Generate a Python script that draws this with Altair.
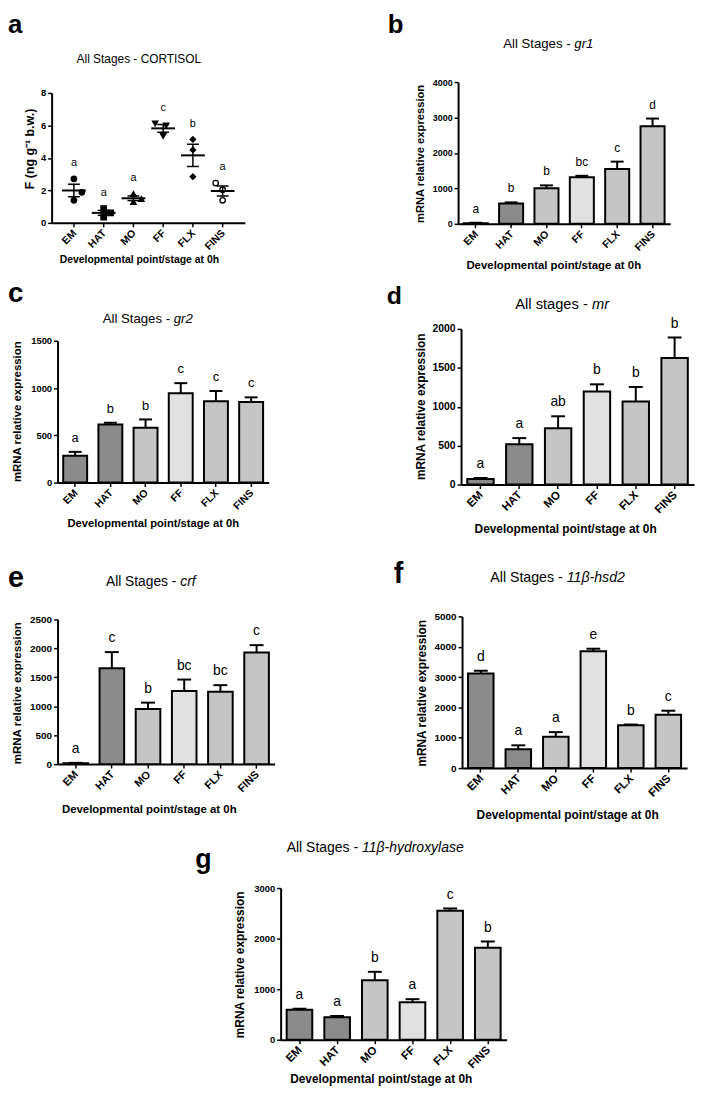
import altair as alt
import numpy as np
import pandas as pd

FONT = "Liberation Sans"
STAGES = ["EM", "HAT", "MO", "FF", "FLX", "FINS"]
X_TITLE = "Developmental point/stage at 0h"
Y_TITLE = "mRNA relative expression"

# ---- data ----
# a: cortisol, individual replicates (ng g-1 b.w.)
CORT_EM = [2.71, 1.88, 1.39]
CORT_HAT = [0.88, 0.61, 0.35]
CORT_MO = [1.78, 1.47, 1.29]
CORT_FF = [6.12, 5.99, 5.35]
CORT_FLX = [5.14, 4.49, 2.84]
CORT_FINS = [2.45, 2.04, 1.39]
CORT_LETTERS = ["a", "a", "a", "c", "b", "a"]

GR1_MEAN = [20, 575, 1005, 1315, 1550, 2755]
GR1_SEM = [8, 30, 80, 40, 205, 215]
GR1_LETTERS = ["a", "b", "b", "bc", "c", "d"]

GR2_MEAN = [283, 615, 580, 944, 860, 853]
GR2_SEM = [42, 18, 88, 108, 109, 49]
GR2_LETTERS = ["a", "b", "b", "c", "c", "c"]

MR_MEAN = [72, 517, 725, 1195, 1068, 1627]
MR_SEM = [13, 80, 152, 93, 186, 263]
MR_LETTERS = ["a", "a", "ab", "b", "b", "b"]

CRF_MEAN = [17, 1655, 953, 1261, 1250, 1929]
CRF_SEM = [5, 280, 109, 200, 114, 126]
CRF_LETTERS = ["a", "c", "b", "bc", "bc", "c"]

HSD2_MEAN = [3120, 620, 1033, 3848, 1413, 1761]
HSD2_SEM = [87, 130, 152, 87, 22, 130]
HSD2_LETTERS = ["d", "a", "a", "e", "b", "c"]

HYD_MEAN = [593, 443, 1174, 743, 2550, 1820]
HYD_SEM = [20, 27, 169, 59, 46, 123]
HYD_LETTERS = ["a", "a", "b", "a", "c", "b"]

# ---- styles ----
FILLS = ["#8b8b8b", "#8b8b8b", "#c5c5c5", "#e1e1e1", "#c5c5c5", "#c5c5c5"]
SHAPES = ["circle", "square", "triangle-up", "triangle-down", "diamond", "circle"]
OPEN_STAGE = "FINS"
JITTER = [[0, 8, 0], [0, 7, 0], [0, 8, 0], [-8, 3, 0], [0, 0, 0], [-7, 0, 0]]

REG_EM = {"All Stages - ": 5.391, "All stages - ": 5.224}
ITAL_EM = {"gr1": 1.445, "gr2": 1.445, "mr": 1.166, "crf": 1.111,
           "11β-hsd2": 4.189, "11β-hydroxylase": 7.356}

# page-coordinate layout: plot=(left, top, width, height), cell=(x1, y1, x2, y2)
P = {
    "a": dict(plot=(52, 89, 195, 131), cell=(8, 8, 356, 272), letter=(8, 29, 26),
              title=(140, 55, 12), ytitle=(30, 145, 12.5), xtitle=(140, 257, 10.5), tick=9.5, xtick=10.5, sig=11),
    "b": dict(plot=(462, 78, 214, 143), cell=(356, 8, 702, 272), letter=(391, 29, 26),
              title=(553, 40, 13.3), ytitle=(424, 150, 11.3), xtitle=(558, 263, 11.5), tick=9, xtick=10.5,
              sig=12, cap=13),
    "c": dict(plot=(58, 339, 213, 143), cell=(8, 272, 356, 545), letter=(8, 300, 28),
              title=(149, 317, 13.3), ytitle=(18, 410, 11.5), xtitle=(154, 523, 11.3), tick=9.5, xtick=10.5,
              sig=13, cap=13),
    "d": dict(plot=(465, 327, 235, 157), cell=(356, 272, 702, 545), letter=(390, 302, 25),
              title=(567, 303, 14.8), ytitle=(424, 405, 12), xtitle=(570, 528, 12), tick=10.5, xtick=11.5,
              sig=14, cap=14),
    "e": dict(plot=(58, 620, 219, 146), cell=(8, 545, 356, 830), letter=(8, 587, 29),
              title=(152, 582, 13.9), ytitle=(18, 694, 11.6), xtitle=(150, 812, 11.5), tick=10, xtick=11,
              sig=14, cap=14),
    "f": dict(plot=(466, 617, 227, 153), cell=(356, 545, 702, 830), letter=(397, 583, 29),
              title=(563, 578, 14.3), ytitle=(425, 694, 12), xtitle=(572, 817, 12), tick=10, xtick=11.5,
              sig=14, cap=14),
    "g": dict(plot=(283, 891, 228, 153), cell=(8, 830, 702, 1089), letter=(197, 871, 27),
              title=(379, 851, 14.1), ytitle=(242, 968, 12), xtitle=(384, 1083, 12), tick=9.5, xtick=11.5,
              sig=14, cap=14),
}


def geom(key):
    g = P[key]
    px, py, W, H = g["plot"]
    cx1, cy1, cx2, cy2 = g["cell"]
    return g, px, py, W, H, cx1, cy1, cx2, cy2


def text_at(x, y, s, size, weight="normal", style="normal", align="left", baseline="alphabetic"):
    return alt.Chart(alt.Data(values=[{"t": s}])).mark_text(
        font=FONT, fontSize=size, fontWeight=weight, fontStyle=style,
        align=align, baseline=baseline, color="black"
    ).encode(x=alt.value(x), y=alt.value(y), text="t:N")


def decorations(key, letter, reg, ital, xs):
    g, px, py, W, H, cx1, cy1, cx2, cy2 = geom(key)
    layers = [
        alt.Chart(alt.Data(values=[{}])).mark_rule(opacity=0).encode(
            x=alt.value(0), x2=alt.value(cx2 - cx1), y=alt.value(0), y2=alt.value(cy2 - cy1))
    ]
    # rotated category labels, placed through the x scale
    layers.append(
        alt.Chart(pd.DataFrame({"stage": STAGES})).mark_text(
            font=FONT, fontSize=g["xtick"], fontWeight="bold", color="black",
            angle=315, align="right", baseline="middle", xOffset=1
        ).encode(x=xs, y=alt.value(py - cy1 + H + 9), text="stage:N")
    )
    lx, ly, ls = g["letter"]
    layers.append(text_at(lx - cx1, ly - cy1, letter, ls, weight="bold"))
    tx, ty, ts = g["title"]
    if ital:
        wr = REG_EM[reg] * ts
        wi = ITAL_EM[ital] * ts
        left = tx - (wr + wi) / 2
        layers.append(text_at(left - cx1, ty - cy1, reg, ts, baseline="middle"))
        layers.append(text_at(left + wr - cx1, ty - cy1, ital, ts, style="italic", baseline="middle"))
    else:
        layers.append(text_at(tx - cx1, ty - cy1, reg, ts, align="center", baseline="middle"))
    return layers


def x_axis(key):
    g, px, py, W, H, cx1, cy1, cx2, cy2 = geom(key)
    xt, yt, st = g["xtitle"]
    return alt.Axis(
        title=X_TITLE, offset=-(cy2 - (py + H)), labels=False,
        titleFont=FONT, titleFontSize=st, titleFontWeight="bold", titleColor="black",
        titleX=xt - cx1, titleY=yt - (py + H), titleAlign="center", titleBaseline="middle", titleAngle=0,
        tickColor="black", tickWidth=1.5, tickSize=4, domainColor="black", domainWidth=2, grid=False,
    )


def y_axis(key, title, values):
    g, px, py, W, H, cx1, cy1, cx2, cy2 = geom(key)
    xt, yt, st = g["ytitle"]
    return alt.Axis(
        title=title, values=values, format="d", offset=-(px - cx1),
        titleFont=FONT, titleFontSize=st, titleFontWeight="bold", titleColor="black",
        titleX=xt - px, titleY=yt - cy1, titleAngle=270, titleAlign="center", titleBaseline="middle",
        labelFont=FONT, labelFontSize=g["tick"], labelFontWeight="bold", labelColor="black",
        labelPadding=2, labelOverlap=False, labelFlush=False,
        tickColor="black", tickWidth=1.5, tickSize=4, domainColor="black", domainWidth=2, grid=False,
    )


def x_enc(key, point=False):
    g, px, py, W, H, cx1, cy1, cx2, cy2 = geom(key)
    rng = [px - cx1, px - cx1 + W]
    if point:
        sc = alt.Scale(domain=STAGES, padding=0.5, range=rng)
    else:
        sc = alt.Scale(domain=STAGES, paddingInner=0.32, paddingOuter=0.16, range=rng)
    return alt.X("stage:N", sort=STAGES, scale=sc, axis=x_axis(key))


def y_enc(key, field, title, ymax, values):
    g, px, py, W, H, cx1, cy1, cx2, cy2 = geom(key)
    sc = alt.Scale(domain=[0, ymax], nice=False, zero=True, range=[py - cy1 + H, py - cy1])
    return alt.Y(field, scale=sc, axis=y_axis(key, title, values))


def bar_panel(key, letter, reg, ital, means, sems, letters, ymax, step):
    g, px, py, W, H, cx1, cy1, cx2, cy2 = geom(key)
    df = pd.DataFrame({"stage": STAGES, "mean": means, "sem": sems, "letter": letters})
    df["top"] = df["mean"] + df["sem"]
    ticks = list(range(0, ymax + 1, step))
    base = alt.Chart(df)
    xs = x_enc(key)
    ym = y_enc(key, "mean:Q", Y_TITLE, ymax, ticks)
    yt = y_enc(key, "top:Q", Y_TITLE, ymax, ticks)
    bars = base.mark_bar(stroke="black", strokeWidth=2).encode(
        x=xs, y=ym,
        fill=alt.Fill("stage:N", scale=alt.Scale(domain=STAGES, range=FILLS), legend=None),
    )
    err = base.mark_rule(color="black", strokeWidth=2).encode(x=xs, y=ym, y2="top:Q")
    cap = base.mark_tick(color="black", thickness=2, size=g["cap"], opacity=1).encode(x=xs, y=yt)
    sig = base.mark_text(font=FONT, fontSize=g["sig"], baseline="alphabetic", dy=-10, color="black").encode(
        x=xs, y=yt, text="letter:N")
    layers = [bars, err, cap, sig] + decorations(key, letter, reg, ital, xs)
    return alt.layer(*layers).properties(width=cx2 - cx1, height=cy2 - cy1)


def cortisol_panel():
    key = "a"
    g, px, py, W, H, cx1, cy1, cx2, cy2 = geom(key)
    groups = [CORT_EM, CORT_HAT, CORT_MO, CORT_FF, CORT_FLX, CORT_FINS]
    rows = []
    for st, vals, jit in zip(STAGES, groups, JITTER):
        for v, j in zip(vals, jit):
            rows.append({"stage": st, "grp": st, "value": v, "jit": j})
    pts = pd.DataFrame(rows)
    stats = pts.groupby("stage", sort=False)["value"].agg(["mean", "std", "max"]).reset_index()
    stats["sem"] = stats["std"] / np.sqrt(3)
    stats["lo"] = stats["mean"] - stats["sem"]
    stats["hi"] = stats["mean"] + stats["sem"]
    stats["letter"] = CORT_LETTERS

    ytitle = "F (ng g⁻¹ b.w.)"
    yvals = [0, 2, 4, 6, 8]
    xs = x_enc(key, point=True)
    layers = []
    for j in sorted(pts["jit"].unique()):
        sub = pts[pts["jit"] == j]
        layers.append(alt.Chart(sub).mark_point(
            filled=True, stroke="black", strokeWidth=1.3, size=30, opacity=1, xOffset=float(j)
        ).encode(
            x=xs,
            y=y_enc(key, "value:Q", ytitle, 8, yvals),
            shape=alt.Shape("grp:N", scale=alt.Scale(domain=STAGES, range=SHAPES), legend=None),
            fill=alt.condition(alt.datum.grp == OPEN_STAGE, alt.value("white"), alt.value("black")),
        ))
    sb = alt.Chart(stats)
    mean_line = sb.mark_tick(color="black", thickness=2, size=24, opacity=1).encode(
        x=xs, y=y_enc(key, "mean:Q", ytitle, 8, yvals))
    sem_rule = sb.mark_rule(color="black", strokeWidth=1.5).encode(
        x=xs, y=y_enc(key, "lo:Q", ytitle, 8, yvals), y2="hi:Q")
    cap_hi = sb.mark_tick(color="black", thickness=1.5, size=12, opacity=1).encode(
        x=xs, y=y_enc(key, "hi:Q", ytitle, 8, yvals))
    cap_lo = sb.mark_tick(color="black", thickness=1.5, size=12, opacity=1).encode(
        x=xs, y=y_enc(key, "lo:Q", ytitle, 8, yvals))
    sig = sb.mark_text(font=FONT, fontSize=g["sig"], baseline="middle", dy=-16, color="black").encode(
        x=xs, y=y_enc(key, "max:Q", ytitle, 8, yvals), text="letter:N")
    layers += [sem_rule, mean_line, cap_hi, cap_lo, sig]
    layers += decorations(key, "a", "All Stages - CORTISOL", None, xs)
    return alt.layer(*layers).properties(width=cx2 - cx1, height=cy2 - cy1)


pa = cortisol_panel()
pb = bar_panel("b", "b", "All Stages - ", "gr1", GR1_MEAN, GR1_SEM, GR1_LETTERS, 4000, 1000)
pc = bar_panel("c", "c", "All Stages - ", "gr2", GR2_MEAN, GR2_SEM, GR2_LETTERS, 1500, 500)
pd_ = bar_panel("d", "d", "All stages - ", "mr", MR_MEAN, MR_SEM, MR_LETTERS, 2000, 500)
pe = bar_panel("e", "e", "All Stages - ", "crf", CRF_MEAN, CRF_SEM, CRF_LETTERS, 2500, 500)
pf = bar_panel("f", "f", "All Stages - ", "11β-hsd2", HSD2_MEAN, HSD2_SEM, HSD2_LETTERS, 5000, 1000)
pg = bar_panel("g", "g", "All Stages - ", "11β-hydroxylase", HYD_MEAN, HYD_SEM, HYD_LETTERS, 3000, 1000)

row1 = alt.hconcat(pa, pb, spacing=0)
row2 = alt.hconcat(pc, pd_, spacing=0)
row3 = alt.hconcat(pe, pf, spacing=0)

chart = alt.vconcat(row1, row2, row3, pg, spacing=0).properties(
    padding=0, background="white"
).configure(font=FONT, view=alt.ViewConfig(stroke=None))

chart.save("out.html", embed_options={"renderer": "svg", "actions": False})
